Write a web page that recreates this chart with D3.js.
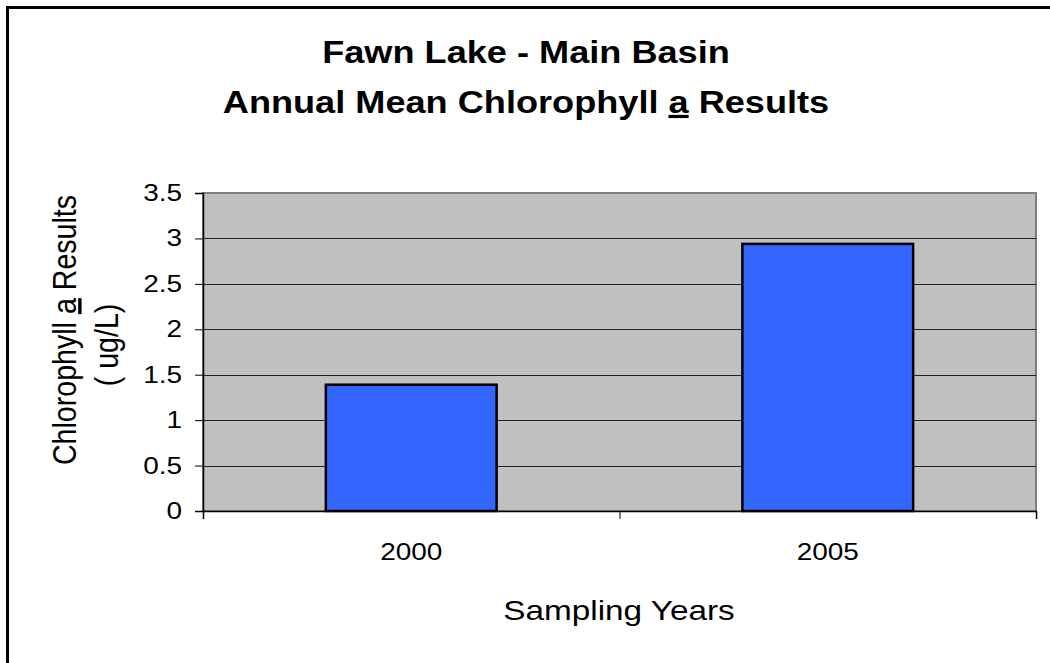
<!DOCTYPE html>
<html>
<head>
<meta charset="utf-8">
<script src="https://cdn.jsdelivr.net/npm/d3@7"></script>
<style>
  body { margin: 0; background: #fff; }
  text { font-family: "Liberation Sans", Arial, sans-serif; fill: #000; }
</style>
</head>
<body>
<div id="chart"></div>
<script>
// data
var years = ["2000", "2005"];
var chlorophyll = [1.39, 2.94];
var yTicks = [0, 0.5, 1, 1.5, 2, 2.5, 3, 3.5];

// the original text is drawn a bit wider than it is tall
var stretch = 1.19;

// plot area inside the 1050x663 page
var margin = {top: 193, right: 14, bottom: 152, left: 203},
    W = 1050, H = 663,
    width = W - margin.left - margin.right,
    height = H - margin.top - margin.bottom;

var svg = d3.select("#chart")
  .append("svg")
    .attr("width", W)
    .attr("height", H);

// outer chart frame (runs off the right and bottom of the picture)
svg.append("rect")
  .attr("x", 7.5).attr("y", 7.5)
  .attr("width", W + 50).attr("height", H + 50)
  .attr("fill", "#fff")
  .attr("stroke", "#000")
  .attr("stroke-width", 3);

var g = svg.append("g")
  .attr("transform", "translate(" + margin.left + "," + margin.top + ")");

// scales
var x = d3.scaleBand()
  .domain(years)
  .range([0, width])
  .paddingInner(0.59)
  .paddingOuter(0.295);

var y = d3.scaleLinear()
  .domain([0, 3.5])
  .range([height, 0]);

// category boundaries for the x tick marks
var xEdges = d3.scaleLinear()
  .domain([0, years.length])
  .range([0, width]);

// grey plot background
g.append("rect")
  .attr("width", width)
  .attr("height", height)
  .attr("fill", "#c0c0c0")
  .attr("stroke", "#808080")
  .attr("stroke-width", 2);

// gridlines
g.append("g")
  .selectAll("line")
  .data(yTicks.filter(function(d) { return d > 0 && d < 3.5; }))
  .enter()
  .append("line")
    .attr("x1", 0)
    .attr("x2", width)
    .attr("y1", function(d) { return Math.round(y(d)) + 0.5; })
    .attr("y2", function(d) { return Math.round(y(d)) + 0.5; })
    .attr("stroke", "#222")
    .attr("stroke-width", 1);

// bars
g.append("g")
  .selectAll("rect")
  .data(chlorophyll)
  .enter()
  .append("rect")
    .attr("x", function(d, i) { return x(years[i]); })
    .attr("y", function(d) { return y(d); })
    .attr("width", x.bandwidth())
    .attr("height", function(d) { return height - y(d); })
    .attr("fill", "#3366ff")
    .attr("stroke", "#000")
    .attr("stroke-width", 2.5);

// y axis
var yAxis = g.append("g")
  .call(d3.axisLeft(y).tickValues(yTicks).tickSize(8)
    .tickFormat(function(d) { return String(d); }));
yAxis.select(".domain").attr("stroke", "#000").attr("stroke-width", 1.5);
yAxis.selectAll(".tick line").attr("stroke", "#000");
yAxis.selectAll(".tick text")
  .attr("x", -21 / stretch)
  .attr("transform", "scale(" + stretch + ",1)")
  .attr("font-size", 23.5)
  .attr("font-family", "Liberation Sans, Arial, sans-serif")
  .attr("fill", "#000");

// x axis: tick marks at category edges
var xAxis = g.append("g")
  .attr("transform", "translate(0," + height + ")")
  .call(d3.axisBottom(xEdges).tickValues([0, 1, 2]).tickSize(8).tickFormat(""));
xAxis.select(".domain").attr("stroke", "#000").attr("stroke-width", 1.5);
xAxis.selectAll(".tick line").attr("stroke", "#000");

// x axis labels at category centres
var xLabels = g.append("g")
  .attr("transform", "translate(0," + height + ")")
  .call(d3.axisBottom(x).tickSize(0).tickPadding(32));
xLabels.select(".domain").remove();
xLabels.selectAll(".tick text")
  .attr("transform", "scale(" + stretch + ",1)")
  .attr("font-size", 23.5)
  .attr("font-family", "Liberation Sans, Arial, sans-serif")
  .attr("fill", "#000");

// title
var title = svg.append("text")
  .attr("transform", "translate(526,0) scale(1.13,1)")
  .attr("text-anchor", "middle")
  .attr("font-weight", "bold")
  .attr("font-size", 32);
title.append("tspan").attr("x", 0).attr("y", 63).text("Fawn Lake - Main Basin");
var t2 = title.append("tspan").attr("x", 0).attr("y", 113);
t2.append("tspan").text("Annual Mean Chlorophyll ");
t2.append("tspan").attr("text-decoration", "underline").text("a");
t2.append("tspan").text(" Results");

// x axis title
svg.append("text")
  .attr("transform", "translate(619,620) scale(" + stretch + ",1)")
  .attr("text-anchor", "middle")
  .attr("font-size", 28)
  .text("Sampling Years");

// y axis title (two lines)
var yt = svg.append("text")
  .attr("transform", "translate(76,330) scale(" + stretch + ",1) rotate(-90)")
  .attr("text-anchor", "middle")
  .attr("font-size", 28.6);
yt.append("tspan").text("Chlorophyll ");
yt.append("tspan").attr("text-decoration", "underline").text("a");
yt.append("tspan").text(" Results");

svg.append("text")
  .attr("transform", "translate(118,345) scale(" + stretch + ",1) rotate(-90)")
  .attr("text-anchor", "middle")
  .attr("font-size", 28.6)
  .text("( ug/L)");
</script>
</body>
</html>
